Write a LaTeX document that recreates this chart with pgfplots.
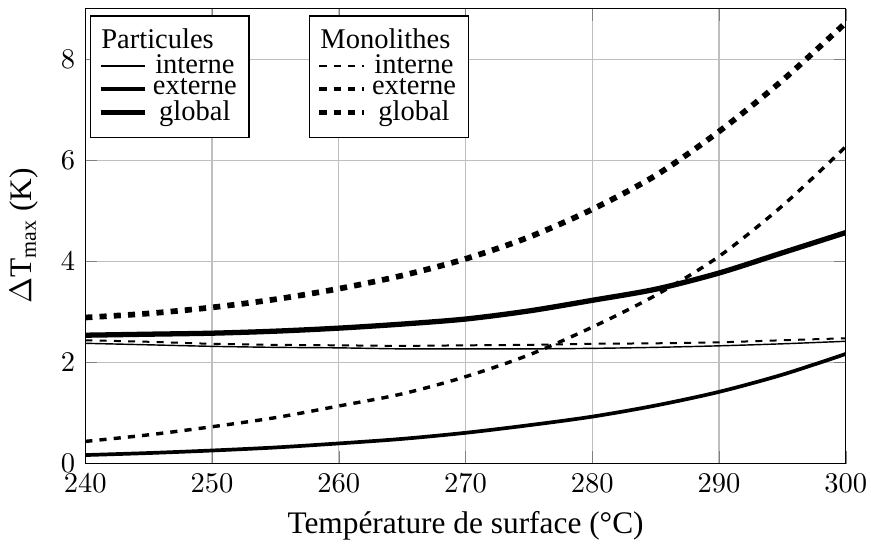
\documentclass[border={0pt 0pt -2pt 0pt}]{standalone}
\usepackage{fontspec}
\setmainfont{Liberation Serif}
\usepackage{pgfplots}
\pgfplotsset{compat=1.18}

\begin{document}
\begin{tikzpicture}
\pgfplotsset{
  common/.style={
    width=266.7pt, height=159.6pt, scale only axis,
    xmin=240, xmax=300, ymin=0, ymax=9,
    xtick={240,250,...,300}, ytick={0,2,...,8},
    legend image code/.code={%
      \draw[mark repeat=2,mark phase=2,##1]
        plot coordinates {(0cm,0cm) (0.275cm,0cm) (0.55cm,0cm)};},
  },
  leg/.style={
    legend cell align=center,
    legend style={at={#1}, anchor=north west, draw=black, fill=white,
      inner xsep=2.5pt, inner ysep=3pt, row sep=-2.5pt,
      nodes={inner sep=1.5pt}},
  },
  mono/.style={black, smooth, dash pattern=on 2.5pt off 2.5pt},
}
% particle model: internal, external and overall gradients
\begin{axis}[common, grid=major,
  label style={font=\fontsize{11}{13.6}\selectfont},
  ylabel style={yshift=1.2pt},
  xlabel={Température de surface (°C)},
  ylabel={$\Delta\mathrm{T}_{\max}$ (K)},
  leg={(0.0065,0.985)}]
\addlegendimage{legend image code/.code={}}
\addlegendentry{\makebox[30pt][l]{\hspace*{-17.8pt}Particules}}
\addplot[black, smooth, line width=0.5pt] coordinates {
  (240,2.38) (245,2.35) (250,2.32) (255,2.30) (260,2.29) (265,2.27) (270,2.27)
  (275,2.27) (280,2.28) (285,2.30) (290,2.33) (295,2.37) (300,2.42)};
\addlegendentry{interne}
\addplot[black, smooth, line width=1.3pt] coordinates {
  (240,0.17) (245,0.21) (250,0.26) (255,0.32) (260,0.40) (265,0.49) (270,0.61)
  (275,0.76) (280,0.93) (285,1.15) (290,1.42) (295,1.76) (300,2.17)};
\addlegendentry{externe}
\addplot[black, smooth, line width=1.85pt] coordinates {
  (240,2.54) (245,2.56) (250,2.58) (255,2.62) (260,2.68) (265,2.76) (270,2.86)
  (275,3.02) (280,3.23) (285,3.45) (290,3.77) (295,4.17) (300,4.57)};
\addlegendentry{global}
\end{axis}
% monolith model
\begin{axis}[common, hide axis, leg={(0.294,0.985)}]
\addlegendimage{legend image code/.code={}}
\addlegendentry{\makebox[30pt][l]{\hspace*{-17.8pt}Monolithes}}
\addplot[mono, line width=0.7pt] coordinates {
  (240,2.44) (245,2.41) (250,2.37) (255,2.35) (260,2.34) (265,2.33) (270,2.34)
  (275,2.35) (280,2.37) (285,2.38) (290,2.40) (295,2.44) (300,2.48)};
\addlegendentry{interne}
\addplot[mono, line width=1.2pt] coordinates {
  (240,0.44) (245,0.57) (250,0.73) (255,0.91) (260,1.14) (265,1.38) (270,1.72)
  (275,2.15) (280,2.70) (285,3.33) (290,4.10) (295,5.10) (300,6.27)};
\addlegendentry{externe}
\addplot[mono, line width=2pt] coordinates {
  (240,2.89) (245,2.97) (250,3.09) (255,3.25) (260,3.46) (265,3.72) (270,4.05)
  (275,4.48) (280,5.03) (285,5.70) (290,6.57) (295,7.58) (300,8.72)};
\addlegendentry{global}
\end{axis}
% a little room above the frame
\path ([yshift=2.8pt]current bounding box.north);
\end{tikzpicture}
\end{document}
